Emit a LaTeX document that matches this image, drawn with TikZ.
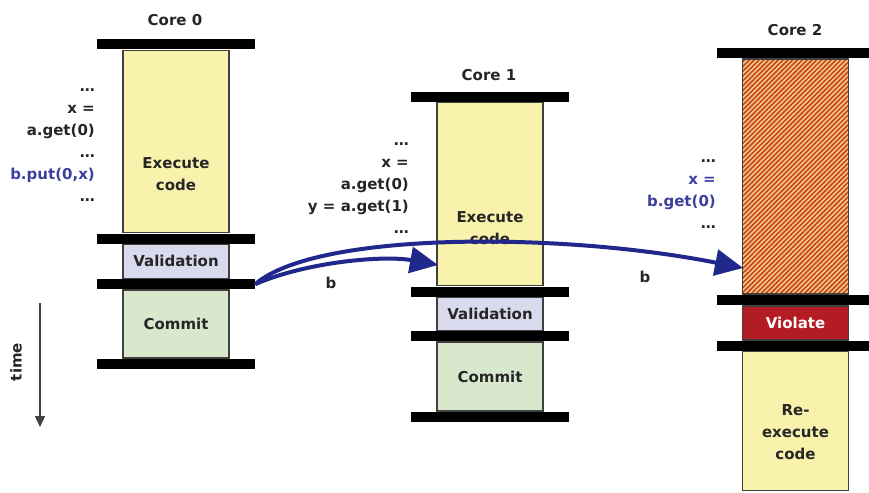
\documentclass[tikz,border=0pt]{standalone}
\usepackage{fontspec}
\setmainfont{DejaVu Sans}
\usetikzlibrary{positioning,arrows.meta,patterns.meta}

\definecolor{execyellow}{RGB}{249,242,172}
\definecolor{validlilac}{RGB}{218,218,238}
\definecolor{commitgreen}{RGB}{215,232,205}
\definecolor{violred}{RGB}{178,28,34}
\definecolor{hatchyellow}{RGB}{242,212,130}
\definecolor{hatchred}{RGB}{204,66,36}
\definecolor{msgblue}{RGB}{32,40,140}
\definecolor{codeblue}{RGB}{62,62,160}

\begin{document}
\begin{tikzpicture}[x=1pt, y=-1pt, node distance=0pt,
  every node/.style={font=\fontsize{15}{22}\selectfont\bfseries, text=black!85, align=center},
  bar/.style={fill=black, minimum width=158pt, minimum height=10pt, inner sep=0pt},
  stage/.style={draw=black!75, line width=1.2pt, minimum width=106pt, inner sep=0pt},
  code/.style={align=right, anchor=base east, inner sep=0pt},
  msg/.style={draw=msgblue, line width=4pt, -{Triangle[length=28pt,width=26pt]}}]
\clip (0,0) rectangle (869,492);

% core 0
\node (c0name) at (175,20) {Core 0};
\node[bar] (c0top) at (176,44.5) {};
\node[stage, fill=execyellow, minimum height=182.5pt, below=of c0top] (c0exec) {};
\node[bar, below=of c0exec] (c0mid) {};
\node[stage, fill=validlilac, minimum height=34pt, below=of c0mid] (c0valid) {Validation};
\node[bar, below=of c0valid] (c0low) {};
\node[stage, fill=commitgreen, minimum height=68pt, below=of c0low] (c0commit) {Commit};
\node[bar, below=of c0commit] (c0end) {};
\node (c0exectext) at ([yshift=-33pt]c0exec.center) {Execute\\code};
\node[code] (c0code) at (95,201) {\ldots\\x =\\a.get(0)\\\ldots\\\textcolor{codeblue}{b.put(0,x)}\\\ldots};

% core 1
\node (c1name) at (489,75) {Core 1};
\node[bar] (c1top) at (490,97) {};
\node[stage, fill=execyellow, minimum height=183pt, below=of c1top] (c1exec) {};
\node[bar, below=of c1exec] (c1mid) {};
\node[stage, fill=validlilac, minimum height=33pt, below=of c1mid] (c1valid) {Validation};
\node[bar, below=of c1valid] (c1low) {};
\node[stage, fill=commitgreen, minimum height=69pt, below=of c1low] (c1commit) {Commit};
\node[bar, below=of c1commit] (c1end) {};
\node (c1exectext) at ([yshift=-34pt]c1exec.center) {Execute\\code};
\node[code] (c1code) at (409,233) {\ldots\\x =\\a.get(0)\\y = a.get(1)\\\ldots};

% core 2
\node (c2name) at (795,30) {Core 2};
\node[bar] (c2top) at (795.5,53) {};
\node[stage, preaction={fill=hatchyellow}, pattern={Lines[angle=45,distance=3.4pt,line width=1.7pt]}, pattern color=hatchred, minimum height=235pt, below=of c2top] (c2exec) {};
\node[bar, below=of c2exec] (c2mid) {};
\node[stage, fill=violred, text=white, minimum height=34pt, below=of c2mid] (c2viol) {Violate};
\node[bar, below=of c2viol] (c2low) {};
\node[stage, fill=execyellow, minimum height=139pt, below=of c2low] (c2redo) {};
\node (c2redotext) at ([yshift=-11pt]c2redo.center) {Re-\\execute\\code};
\node[code] (c2code) at (716,228) {\ldots\\\textcolor{codeblue}{x =}\\\textcolor{codeblue}{b.get(0)}\\\ldots};

% b is sent to core 1 and core 2
\coordinate (c1hit) at (438,265);
\coordinate (c2hit) at (743,268);
\draw[msg] (c0low.east) .. controls +(50,-22) and +(-55,-10) .. (c1hit);
\draw[msg] (c0low.east) .. controls +(61,-53) and +(-182,-36) .. (c2hit);
\node (b1) at (331,283) {b};
\node (b2) at (645,277) {b};

% time axis
\coordinate (tstart) at (40,303);
\coordinate (tend) at (40,427);
\draw[black!75, line width=1.5pt, -{Triangle[length=11pt,width=10pt]}] (tstart) -- (tend);
\node[rotate=90] (timelabel) at (16,362) {time};
\end{tikzpicture}
\end{document}
